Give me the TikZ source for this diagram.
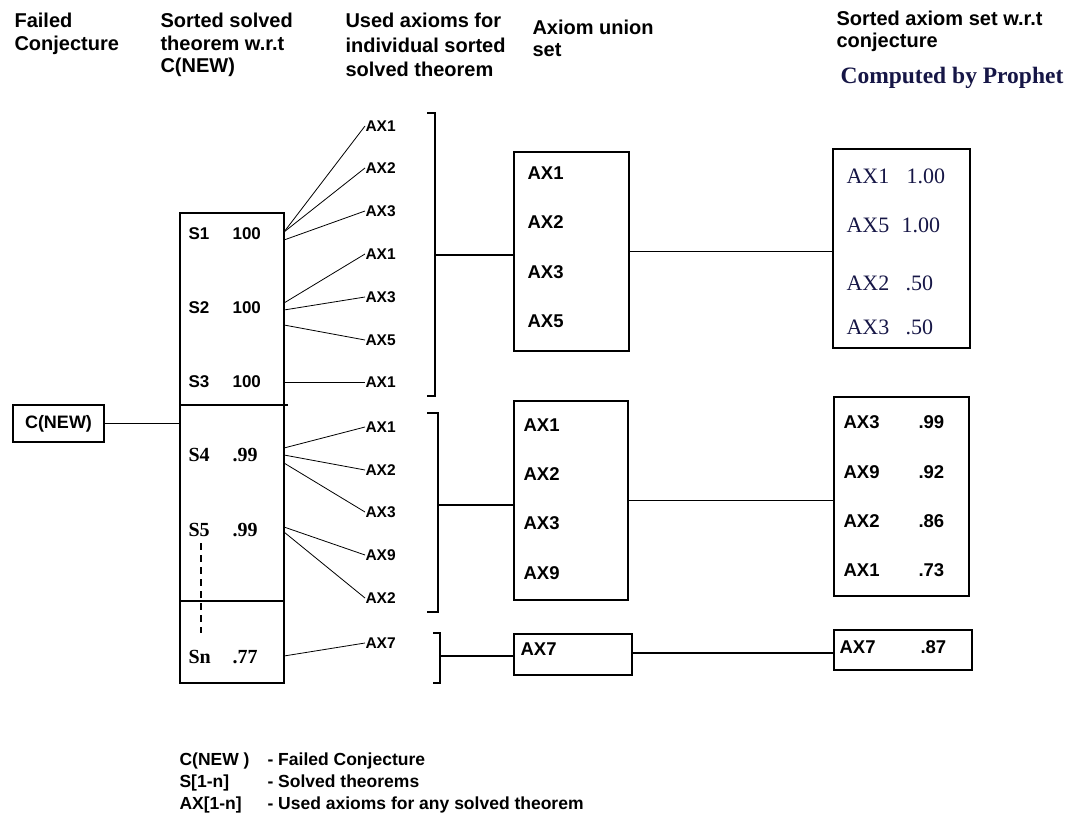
\documentclass[tikz,border=0pt]{standalone}
\usepackage{fontspec}
\setmainfont{Liberation Sans}
\newfontfamily\tms{Liberation Serif}
\definecolor{navy}{RGB}{22,22,70}
\begin{document}
\begin{tikzpicture}[x=1pt,y=-1pt,line width=1.1pt,
  hdr/.style={anchor=west,inner sep=0pt,font=\fontsize{20}{22}\selectfont\bfseries},
  axs/.style={anchor=west,inner sep=0pt,font=\fontsize{15.5}{17}\selectfont\bfseries},
  blab/.style={anchor=west,inner sep=0pt,font=\fontsize{18.5}{20}\selectfont\bfseries},
  slab/.style={anchor=west,inner sep=0pt,font=\fontsize{17}{19}\selectfont\bfseries},
  slabt/.style={anchor=west,inner sep=0pt,font=\tms\fontsize{20}{22}\selectfont\bfseries},
  tlab/.style={anchor=west,inner sep=0pt,text=navy,font=\tms\fontsize{22}{24}\selectfont},
  leg/.style={anchor=base west,inner sep=0pt,font=\fontsize{17.5}{20}\selectfont\bfseries},
  bx/.style={draw,inner sep=0pt,line width=1.1pt},
  con/.style={line width=0.8pt}]
\useasboundingbox (0,0) rectangle (1068,816);

% headers
\node[hdr] (h1a) at (14,20) {Failed};
\node[hdr] (h1b) at (14,45) {Conjecture};
\node[hdr] (h2a) at (160,20) {Sorted solved};
\node[hdr] (h2b) at (160,43) {theorem w.r.t};
\node[hdr] (h2c) at (160,67) {C(NEW)};
\node[hdr] (h3a) at (345,20) {Used axioms for};
\node[hdr] (h3b) at (345,45) {individual sorted};
\node[hdr] (h3c) at (345,69) {solved theorem};
\node[hdr] (h4a) at (532,27) {Axiom union};
\node[hdr] (h4b) at (532,50) {set};
\node[hdr] (h5a) at (836,18) {Sorted axiom set w.r.t};
\node[hdr] (h5b) at (836,42) {conjecture};
\node[anchor=west,inner sep=0pt,text=navy,font=\tms\fontsize{23.5}{25}\selectfont\bfseries] (h5c) at (840,78) {Computed by Prophet};

% C(NEW)
\node[bx,minimum width=91pt,minimum height=37pt,font=\fontsize{18}{20}\selectfont\bfseries] (cnew) at (58.5,423.5) {C(NEW)};

% S box
\node[bx,minimum width=104pt,minimum height=470pt] (sbox) at (232,448) {};
\draw (180,405) -- (288,405);
\draw (180,601) -- (284,601);
\draw[dash pattern=on 7pt off 5pt] (201,543) -- (201,633);
\draw (cnew.east) -- (cnew.east -| sbox.west);

\node[slab] (s1) at (188,234) {S1};  \node[slab] (v1) at (232,234) {100};
\node[slab] (s2) at (188,308) {S2};  \node[slab] (v2) at (232,308) {100};
\node[slab] (s3) at (188,382) {S3};  \node[slab] (v3) at (232,382) {100};
\node[slabt] (s4) at (188,455) {S4}; \node[slabt] (v4) at (232,455) {.99};
\node[slabt] (s5) at (188,530) {S5}; \node[slabt] (v5) at (232,530) {.99};
\node[slabt] (sn) at (188,657) {Sn}; \node[slabt] (vn) at (232,657) {.77};

% axiom labels column
\node[axs] (a1) at (365,126) {AX1};
\node[axs] (a2) at (365,168) {AX2};
\node[axs] (a3) at (365,211) {AX3};
\node[axs] (a4) at (365,254) {AX1};
\node[axs] (a5) at (365,297) {AX3};
\node[axs] (a6) at (365,340) {AX5};
\node[axs] (a7) at (365,382) {AX1};
\node[axs] (a8) at (365,427) {AX1};
\node[axs] (a9) at (365,470) {AX2};
\node[axs] (a10) at (365,512) {AX3};
\node[axs] (a11) at (365,555) {AX9};
\node[axs] (a12) at (365,598) {AX2};
\node[axs] (a13) at (365,643) {AX7};

% start points on S box
\coordinate (p1) at (284,232);
\coordinate (p2) at (284,240);
\coordinate (p3) at (284,303);
\coordinate (p4) at (284,310);
\coordinate (p5) at (284,325);
\coordinate (p6) at (284,382);
\coordinate (p7) at (284,448);
\coordinate (p8) at (284,455);
\coordinate (p9) at (284,463);
\coordinate (p10) at (284,527);
\coordinate (p11) at (284,532);
\coordinate (p12) at (284,656);

\draw[con] (p1) -- (a1.west);
\draw[con] (p1) -- (a2.west);
\draw[con] (p2) -- (a3.west);
\draw[con] (p3) -- (a4.west);
\draw[con] (p4) -- (a5.west);
\draw[con] (p5) -- (a6.west);
\draw[con] (p6) -- (a7.west);
\draw[con] (p7) -- (a8.west);
\draw[con] (p8) -- (a9.west);
\draw[con] (p9) -- (a10.west);
\draw[con] (p10) -- (a11.west);
\draw[con] (p11) -- (a12.west);
\draw[con] (p12) -- (a13.west);

% brackets
\draw (427,113) -- (435,113) -- (435,396) -- (427,396);
\coordinate (b1) at (435,255);
\draw (427,413) -- (438,413) -- (438,612) -- (427,612);
\coordinate (b2) at (438,505);
\draw (433,633) -- (440,633) -- (440,683) -- (433,683);
\coordinate (b3) at (440,656);

% union boxes
\node[bx,minimum width=115pt,minimum height=199pt] (u1) at (571.5,251.5) {};
\node[bx,minimum width=114pt,minimum height=199pt] (u2) at (571,500.5) {};
\node[bx,minimum width=118pt,minimum height=41pt] (u3) at (573,654.5) {};
\draw (b1) -- (b1 -| u1.west);
\draw (b2) -- (b2 -| u2.west);
\draw (b3) -- (b3 -| u3.west);

\node[blab] (u1a) at (527,173) {AX1};
\node[blab] (u1b) at (527,222) {AX2};
\node[blab] (u1c) at (527,272) {AX3};
\node[blab] (u1d) at (527,321) {AX5};
\node[blab] (u2a) at (523,425) {AX1};
\node[blab] (u2b) at (523,474) {AX2};
\node[blab] (u2c) at (523,523) {AX3};
\node[blab] (u2d) at (523,573) {AX9};
\node[blab] (u3a) at (520,649) {AX7};

% result boxes
\node[bx,minimum width=137pt,minimum height=199pt] (r1) at (901.5,248.5) {};
\node[bx,minimum width=135pt,minimum height=199pt] (r2) at (901.5,496.5) {};
\node[bx,minimum width=138pt,minimum height=40pt] (r3) at (903,650) {};
\draw (u1.east) -- (u1.east -| r1.west);
\draw (u2.east) -- (u2.east -| r2.west);
\coordinate (c3) at (632,653);
\draw (c3) -- (c3 -| r3.west);

\node[tlab] (r1a) at (846,176) {AX1};  \node[tlab] (r1av) at (906,176) {1.00};
\node[tlab] (r1b) at (846,225) {AX5};  \node[tlab] (r1bv) at (901,225) {1.00};
\node[tlab] (r1c) at (846,283) {AX2};  \node[tlab] (r1cv) at (905,283) {.50};
\node[tlab] (r1d) at (846,327) {AX3};  \node[tlab] (r1dv) at (905,327) {.50};

\node[blab] (r2a) at (843,422) {AX3}; \node[blab] (r2av) at (918,422) {.99};
\node[blab] (r2b) at (843,472) {AX9}; \node[blab] (r2bv) at (918,472) {.92};
\node[blab] (r2c) at (843,521) {AX2}; \node[blab] (r2cv) at (918,521) {.86};
\node[blab] (r2d) at (843,570) {AX1}; \node[blab] (r2dv) at (918,570) {.73};
\node[blab] (r3a) at (839,647) {AX7}; \node[blab] (r3av) at (920,647) {.87};

% legend
\node[leg] (l1) at (179,765) {C(NEW )};
\node[leg] (l1t) at (267,765) {- Failed Conjecture};
\node[leg] (l2) at (179,787) {S[1-n]};
\node[leg] (l2t) at (267,787) {- Solved theorems};
\node[leg] (l3) at (179,809) {AX[1-n]};
\node[leg] (l3t) at (267,809) {- Used axioms for any solved theorem};
\end{tikzpicture}
\end{document}
